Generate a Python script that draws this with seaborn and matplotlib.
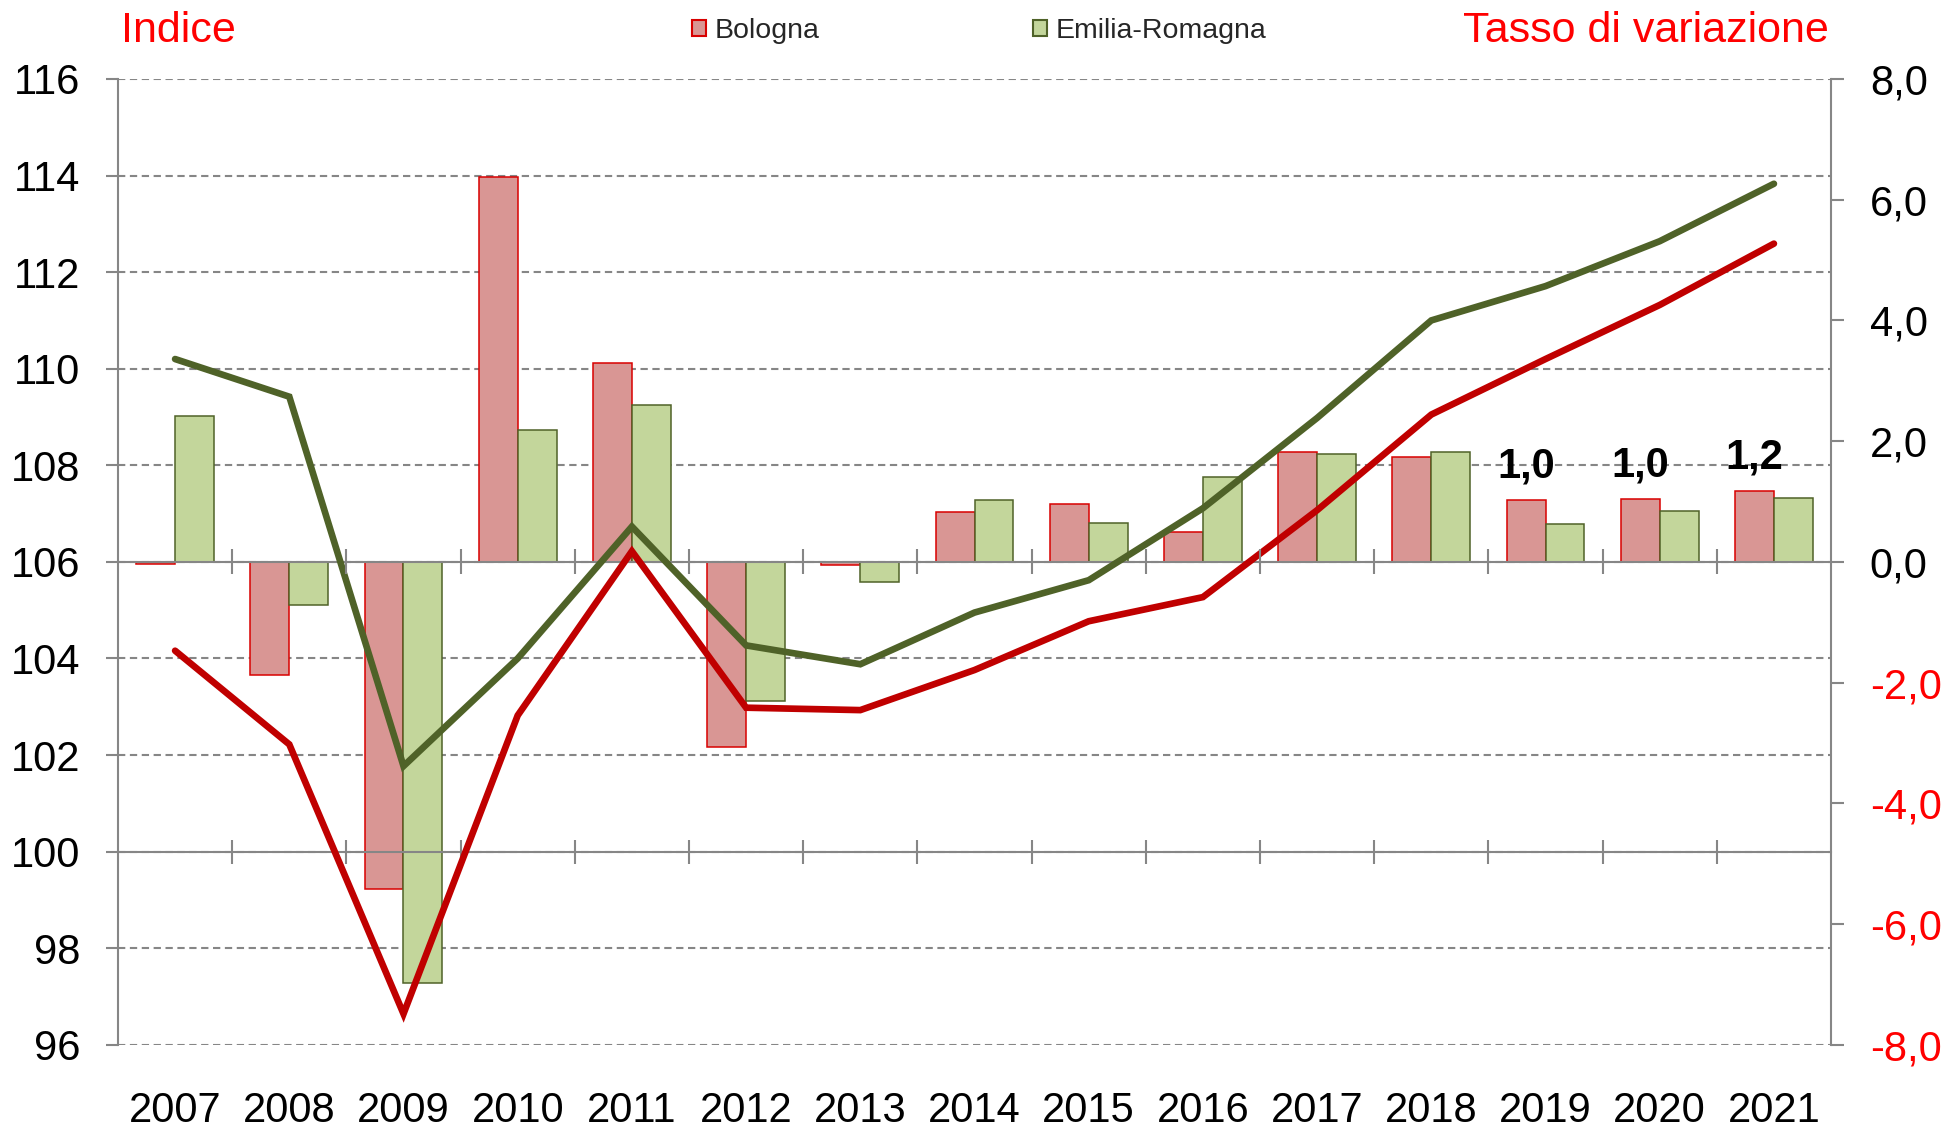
import numpy as np
import pandas as pd
import matplotlib
matplotlib.use("Agg")
import matplotlib.pyplot as plt
import seaborn as sns
from matplotlib.ticker import FixedLocator
from matplotlib.patches import Patch

# ---------------- data ----------------
years = [str(y) for y in range(2007, 2022)]
series = ["Bologna", "Emilia-Romagna"]

# growth rates (right axis, bars)
bologna_rate = [-0.04, -1.87, -5.42, 6.37, 3.30, -3.06, -0.05, 0.82, 0.96,
                0.49, 1.82, 1.74, 1.02, 1.04, 1.17]
emilia_rate = [2.42, -0.71, -6.98, 2.19, 2.60, -2.31, -0.34, 1.02, 0.64,
               1.41, 1.79, 1.82, 0.63, 0.84, 1.06]

# index (left axis, lines)
bologna_index = [104.16, 102.22, 96.64, 102.82, 106.22, 102.98, 102.93, 103.76,
                 104.77, 105.27, 107.07, 109.05, 110.20, 111.32, 112.59]
emilia_index = [110.20, 109.42, 101.77, 104.00, 106.73, 104.27, 103.88, 104.95,
                105.62, 107.11, 108.98, 111.00, 111.71, 112.64, 113.83]

left_ticks = list(range(96, 117, 2))
right_ticks = list(range(-8, 9, 2))
labelled_years = ["2019", "2020", "2021"]

bar_faces = {"Bologna": "#D99694", "Emilia-Romagna": "#C3D69B"}
bar_edges = {"Bologna": "#D80000", "Emilia-Romagna": "#4F6228"}
line_colors = {"Bologna": "#C00000", "Emilia-Romagna": "#4F6228"}
GRAY = "#868686"


def fmt(v):
    return f"{v:.1f}".replace(".", ",")


rates = pd.DataFrame({
    "Anno": years * 2,
    "Serie": [series[0]] * len(years) + [series[1]] * len(years),
    "Tasso": bologna_rate + emilia_rate,
})
index = pd.DataFrame({
    "Anno": years * 2,
    "Serie": [series[0]] * len(years) + [series[1]] * len(years),
    "Indice": bologna_index + emilia_index,
})
index["pos"] = pd.Categorical(index["Anno"], categories=years).codes

# ---------------- figure ----------------
sns.set_theme(style="white")
plt.rcParams["font.family"] = ["Liberation Sans", "DejaVu Sans"]

fig = plt.figure(figsize=(19.6, 11.28), dpi=100)
ax = fig.add_axes([0.0602, 0.0738, 0.874, 0.8562])   # left scale, grid, year labels
ax_b = ax.twinx()                                   # right scale, bars
ax_l = ax.twinx()                                   # left scale, lines + axis at 100

# bars
sns.barplot(data=rates, x="Anno", y="Tasso", hue="Serie", hue_order=series,
            palette=bar_faces, saturation=1, width=0.68, gap=0,
            linewidth=1.1, legend=False, ax=ax_b, errorbar=None)
for cont, s in zip(ax_b.containers, series):
    for p in cont.patches:
        p.set_edgecolor(bar_edges[s])
        p.set_linewidth(1.1)

# lines
sns.lineplot(data=index, x="pos", y="Indice", hue="Serie", hue_order=series,
             palette=line_colors, linewidth=4.8, legend=False, ax=ax_l,
             sort=False, zorder=3, solid_joinstyle="miter")

n = len(years)
boundaries = np.arange(0.5, n - 1, 1.0)
for a in (ax, ax_b, ax_l):
    a.set_xlim(-0.5, n - 0.5)
    a.set_xlabel("")
    a.set_ylabel("")

# ---- left axis (ax)
ax.set_ylim(96, 116)
ax.set_yticks(left_ticks, [str(v) for v in left_ticks])
ax.tick_params(axis="y", which="major", left=True, direction="out", length=8.6,
               width=1.5, color=GRAY, labelsize=30, pad=18.5, labelcolor="black")
ax.yaxis.grid(True, color=GRAY, linestyle=(0, (3.5, 2.2)), linewidth=1.5)
ax.xaxis.grid(False)
for side in ("top", "right", "bottom"):
    ax.spines[side].set_visible(False)
ax.spines["left"].set_color(GRAY)
ax.spines["left"].set_linewidth(1.5)

ax.set_xticks(range(n), years)
ax.xaxis.set_minor_locator(FixedLocator(boundaries))
ax.tick_params(axis="x", which="major", length=0, labelsize=30, pad=33,
               labelbottom=True, labelcolor="black")
ax.tick_params(axis="x", which="minor", length=0)

# ---- right axis (bars) with its category axis crossing at 0 %
ax_b.set_ylim(-8, 8)
ax_b.set_yticks(right_ticks, [fmt(v) for v in right_ticks])
ax_b.tick_params(axis="y", which="major", right=True, direction="out", length=9.4,
                 width=1.5, color=GRAY, labelsize=30, pad=18.5)
for lab, v in zip(ax_b.get_yticklabels(), right_ticks):
    lab.set_color("red" if v < 0 else "black")
for side in ("top", "left"):
    ax_b.spines[side].set_visible(False)
ax_b.spines["right"].set_color(GRAY)
ax_b.spines["right"].set_linewidth(1.5)
ax_b.spines["bottom"].set_position(("data", 0))
ax_b.spines["bottom"].set_color(GRAY)
ax_b.spines["bottom"].set_linewidth(1.5)
ax_b.spines["bottom"].set_zorder(2.6)
ax_b.grid(False)

# data labels on Bologna bars
ax_b.bar_label(ax_b.containers[0],
               labels=[fmt(v) if y in labelled_years else ""
                       for y, v in zip(years, bologna_rate)],
               padding=10, fontsize=30, fontweight="bold", color="black")

# ---- lines axis with category axis crossing at 100
ax_l.xaxis.set_visible(True)
ax_l.set_ylim(96, 116)
ax_l.set_yticks([])
for side in ("left", "right", "top"):
    ax_l.spines[side].set_visible(False)
ax_l.spines["bottom"].set_position(("data", 100))
ax_l.spines["bottom"].set_color(GRAY)
ax_l.spines["bottom"].set_linewidth(1.5)
ax_l.tick_params(axis="x", which="major", length=0, labelbottom=False)
ax_l.tick_params(axis="x", which="minor", bottom=True, direction="inout",
                 length=17.5, width=1.5, color=GRAY)
ax_l.grid(False)

# category-boundary tick marks on the 0 % axis line (index scale centre = 0 %)
zero_on_index = float(np.mean(ax_l.get_ylim()))
tick_half = 0.26
ax_l.vlines(boundaries, zero_on_index - tick_half, zero_on_index + tick_half,
            colors=GRAY, linewidth=1.5, zorder=5)

# ---- titles and legend
fig.text(121 / 1960, 1 - 42 / 1128, "Indice", color="red", fontsize=31,
         ha="left", va="baseline")
fig.text(1829 / 1960, 1 - 42 / 1128, "Tasso di variazione", color="red",
         fontsize=31, ha="right", va="baseline")

handles = [Patch(facecolor=bar_faces[s], edgecolor=bar_edges[s], linewidth=1.5)
           for s in series]
fig.legend(handles, series, loc="center", bbox_to_anchor=(0.4995, 0.9725),
           ncol=2, frameon=False, fontsize=20.5, handlelength=0.5,
           handleheight=0.5, handletextpad=0.3, columnspacing=7.5,
           borderpad=0, borderaxespad=0)

fig.savefig("out.png", dpi=100)
